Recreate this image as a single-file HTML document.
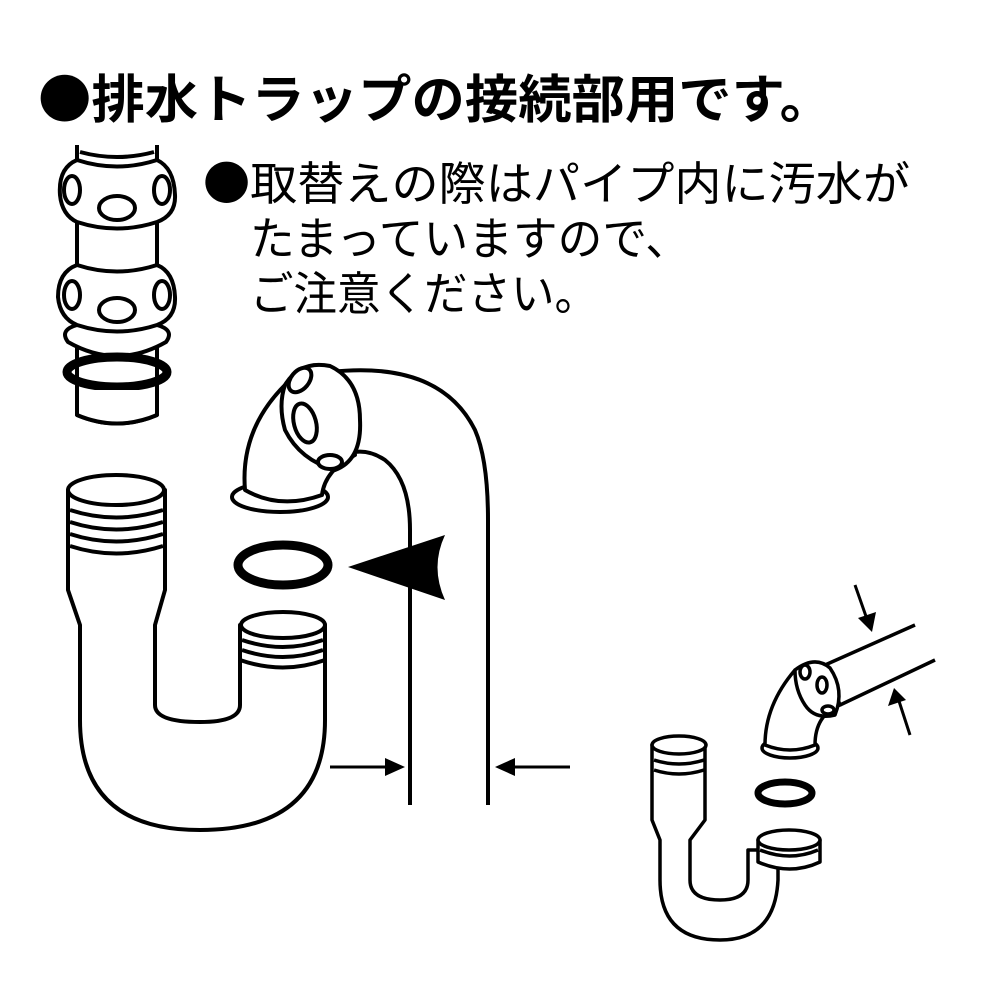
<!DOCTYPE html>
<html><head><meta charset="utf-8"><style>
html,body{margin:0;padding:0;background:#fff}
svg{display:block}
text{font-family:"Liberation Sans","Noto Sans CJK JP",sans-serif;fill:#000}
.b{font-family:"Noto Sans CJK JP",sans-serif}
</style></head><body>
<svg width="1000" height="1000" viewBox="0 0 1000 1000" xmlns="http://www.w3.org/2000/svg">
<text x="38" y="118" font-size="52" font-weight="bold" textLength="795" lengthAdjust="spacingAndGlyphs"><tspan class="b">●</tspan>排水トラップの接続部用です。</text>
<text x="203" y="200" font-size="46" textLength="707" lengthAdjust="spacingAndGlyphs"><tspan class="b">●</tspan>取替えの際はパイプ内に汚水が</text>
<text x="250" y="255" font-size="46" textLength="440" lengthAdjust="spacingAndGlyphs">たまっていますので、</text>
<text x="250" y="310" font-size="46" textLength="348" lengthAdjust="spacingAndGlyphs">ご注意ください。</text>

<g fill="#fff" stroke="#000" stroke-width="4" stroke-linejoin="round">
<!-- left top pipe -->
<path d="M77 145 V415 Q117 432 157 415 V145" />
<path d="M80 152 Q117 162 154 152" fill="none"/>
<path d="M68 342 Q117 370 166 342 Q175 330 157 325 H77 Q59 330 68 342Z"/>
<path d="M77 355 V395 Q117 412 157 395 V355" />
<ellipse cx="117" cy="372" rx="50" ry="15" fill="none" stroke-width="9"/>
<path d="M77 390 V415 Q117 432 157 415 V390"/>
<path d="M77 160 Q58 168 60 195 Q62 215 77 222 Q117 235 157 222 Q176 215 175 195 Q174 168 157 160 Q117 173 77 160Z"/>
<ellipse cx="117" cy="208" rx="18" ry="12"/><ellipse cx="72" cy="190" rx="8" ry="14"/><ellipse cx="162" cy="190" rx="8" ry="14"/>
<path d="M77 265 Q58 272 58 297 Q60 318 77 325 Q117 338 157 325 Q176 318 175 297 Q174 272 157 265 Q117 278 77 265Z"/>
<ellipse cx="117" cy="310" rx="18" ry="12"/><ellipse cx="72" cy="295" rx="8" ry="14"/><ellipse cx="162" cy="295" rx="8" ry="14"/>

<!-- big S-trap -->
<path d="M68 490 V590 L80 625 V720 Q80 830 200 830 Q325 830 325 720 V640 H240 V705 Q240 722 200 722 Q155 722 155 705 V625 L165 590 V490Z"/>
<ellipse cx="116" cy="490" rx="48" ry="15"/>
<path d="M70 510 Q116 525 163 510 M70 522 Q116 537 163 522 M70 534 Q116 549 163 534 M70 546 Q116 561 163 546" fill="none"/>
<path d="M240 625 V660 Q283 675 325 660 V625Z"/>
<ellipse cx="283" cy="625" rx="42" ry="13"/>
<path d="M242 640 Q283 654 323 640 M242 650 Q283 664 323 650" fill="none"/>
<ellipse cx="283" cy="565" rx="45" ry="20" fill="none" stroke-width="9"/>

<!-- J pipe -->
<path d="M330 372 Q440 360 475 430 Q488 460 488 520 V805 M410 805 V530 Q410 480 385 460 Q370 450 355 452" fill="none"/>
<ellipse cx="280" cy="497" rx="48" ry="15"/>
<path d="M245 490 Q240 430 285 385 L330 372 L355 455 Q325 470 322 495 Q280 510 245 490Z"/>
<path d="M285 385 Q300 360 330 366 Q360 380 360 420 Q362 460 335 470 Q300 460 285 430 Q278 405 285 385Z"/>
<ellipse cx="300" cy="380" rx="9" ry="14" transform="rotate(40 300 380)"/>
<ellipse cx="305" cy="423" rx="11" ry="20" transform="rotate(-15 305 423)"/>
<ellipse cx="330" cy="462" rx="12" ry="7"/>
</g>
<path d="M348 567 L445 535 Q430 567 445 600 Z" fill="#000"/>
<g stroke="#000" stroke-width="3" fill="none">
<path d="M330 767 H395 M570 767 H505"/>
<path d="M855 585 L868 622 M910 735 L898 698"/>
</g>
<path d="M405 767 L385 758 L385 776Z M495 767 L515 758 L515 776Z M872 632 L858 618 L876 612Z M894 688 L888 706 L906 700Z" fill="#000"/>

<!-- small trap -->
<g fill="#fff" stroke="#000" stroke-width="3.5" stroke-linejoin="round">
<path d="M652 745 V820 L660 840 V880 Q660 940 720 940 Q775 940 778 880 V850 H748 V880 Q748 900 720 900 Q690 900 690 880 V840 L705 820 V745Z"/>
<ellipse cx="679" cy="745" rx="27" ry="9"/>
<path d="M654 760 Q679 768 704 760 M654 770 Q679 778 704 770" fill="none"/>
<path d="M758 840 V862 Q790 876 820 862 V840Z"/>
<ellipse cx="789" cy="840" rx="31" ry="10"/>
<path d="M760 850 Q790 862 818 850" fill="none"/>
<ellipse cx="785" cy="793" rx="27" ry="11" fill="none" stroke-width="7"/>
<path d="M825 665 L915 625 M840 705 L935 660" fill="none"/>
<ellipse cx="790" cy="748" rx="28" ry="10"/>
<path d="M765 745 Q765 705 795 670 L825 665 L840 705 Q815 715 815 745 Q790 755 765 745Z"/>
<path d="M795 670 Q815 655 830 668 Q845 690 835 715 Q815 720 805 705 Q795 690 795 670Z"/>
<ellipse cx="805" cy="672" rx="5" ry="7"/><ellipse cx="822" cy="685" rx="5" ry="8"/><ellipse cx="828" cy="710" rx="6" ry="4"/>
</g>
</svg>
</body></html>
